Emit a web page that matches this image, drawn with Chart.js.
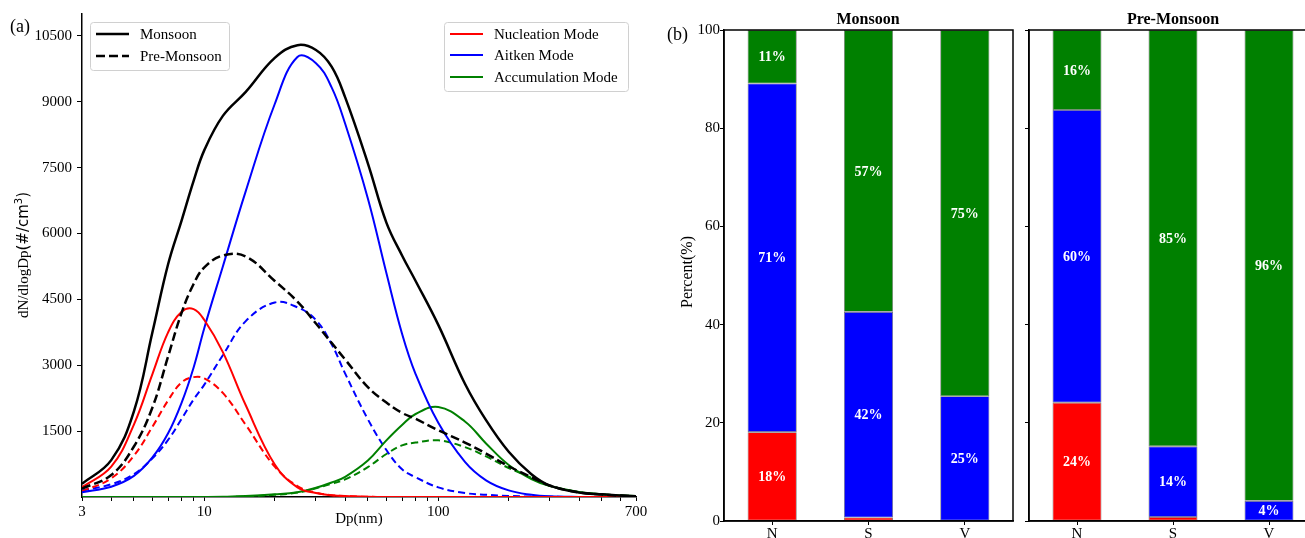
<!DOCTYPE html>
<html>
<head>
<meta charset="utf-8">
<script src="https://cdn.jsdelivr.net/npm/chart.js@4.4.0/dist/chart.umd.min.js"></script>
<style>
  html, body { margin: 0; padding: 0; background: #fff; overflow: hidden; }
  #wrap { position: relative; width: 1305px; height: 538px; overflow: hidden; }
  canvas { position: absolute; top: 0; }
</style>
</head>
<body>
<div id="wrap">
  <canvas id="psd" width="650" height="538" style="left:0px"></canvas>
  <canvas id="barMon" width="380" height="538" style="left:640px"></canvas>
  <canvas id="barPre" width="310" height="538" style="left:1020px"></canvas>
</div>
<script>
// (a) size distributions, dN/dlogDp vs Dp (nm)
const diameters = [3, 4, 5, 6, 7, 8, 9, 10, 12, 15, 20, 25, 30, 35, 40, 50, 60, 70, 80, 100, 130, 160, 200, 250, 300, 400, 500, 700];

const monsoonTotal = [300, 840, 1950, 3750, 5300, 6300, 7200, 7900, 8680, 9220, 10000, 10290, 10180, 9800, 9100, 7600, 6250, 5500, 4920, 3920, 2580, 1750, 1030, 520, 260, 100, 60, 15];
const monsoonNuc   = [220, 690, 1650, 2800, 3750, 4220, 4280, 4030, 3300, 2100, 740, 220, 90, 40, 20, 5, 0, 0, 0, 0, 0, 0, 0, 0, 0, 0, 0, 0];
const monsoonAit   = [110, 235, 480, 900, 1450, 2150, 2950, 3850, 5250, 6950, 8950, 10020, 9880, 9330, 8500, 6800, 5100, 3720, 2800, 1690, 800, 380, 150, 50, 15, 2, 0, 0];
const monsoonAcc   = [0, 0, 0, 0, 0, 0, 0, 0, 5, 20, 60, 110, 210, 330, 460, 830, 1290, 1640, 1890, 2050, 1720, 1220, 730, 410, 250, 115, 65, 20];

const preTotal = [190, 500, 1150, 2040, 3200, 4200, 4850, 5230, 5500, 5480, 4920, 4450, 3950, 3510, 3130, 2500, 2150, 1915, 1780, 1520, 1240, 990, 700, 450, 260, 105, 55, 15];
const preNuc   = [130, 425, 940, 1600, 2200, 2610, 2730, 2700, 2370, 1650, 690, 250, 100, 40, 20, 5, 0, 0, 0, 0, 0, 0, 0, 0, 0, 0, 0, 0];
const preAit   = [150, 290, 520, 880, 1300, 1780, 2220, 2560, 3230, 4000, 4430, 4320, 4030, 3480, 2810, 1770, 1070, 630, 450, 220, 90, 50, 25, 10, 5, 0, 0, 0];
const preAcc   = [0, 0, 0, 0, 0, 0, 0, 0, 0, 10, 50, 100, 200, 300, 400, 680, 980, 1175, 1240, 1290, 1135, 925, 660, 440, 255, 110, 60, 15];

const xTickValues = [3, 4, 5, 6, 7, 8, 9, 10, 20, 30, 40, 50, 60, 70, 80, 90, 100, 200, 300, 400, 500, 600, 700];
const xTickLabels = [3, 10, 100, 700];
const yTickValues = [1500, 3000, 4500, 6000, 7500, 9000, 10500];

// (b) mode fractions (%) per site
const sites = ['N', 'S', 'V'];
const monNucPct = [18.1, 0.7, 0];
const monAitPct = [71.0, 41.9, 25.4];
const monAccPct = [10.9, 57.4, 74.6];
const preNucPct = [24.1, 0.8, 0];
const preAitPct = [59.6, 14.4, 4.1];
const preAccPct = [16.3, 84.8, 95.9];
const pctTicks = [0, 20, 40, 60, 80, 100];

const SERIF = '"Liberation Serif", "Times New Roman", serif';
const RED = '#ff0000', BLUE = '#0000ff', GREEN = '#008000';
const SOLID = [], DASH_K = [9, 4], DASH_C = [7, 4];

function curve(label, values, color, dash, width) {
  return {
    label: label,
    data: diameters.map((d, i) => ({ x: d, y: values[i] })),
    borderColor: color,
    borderWidth: width,
    borderDash: dash,
    pointRadius: 0,
    fill: false,
    tension: 0.4
  };
}

function legendBox(ctx, x, y, w, h, items) {
  ctx.save();
  ctx.fillStyle = 'rgba(255,255,255,0.8)';
  ctx.strokeStyle = '#d0d0d0';
  ctx.lineWidth = 1;
  ctx.beginPath();
  ctx.roundRect(x + 0.5, y + 0.5, w, h, 3);
  ctx.fill();
  ctx.stroke();
  ctx.font = '15px ' + SERIF;
  ctx.textBaseline = 'middle';
  ctx.fillStyle = '#000';
  items.forEach(it => {
    ctx.beginPath();
    ctx.strokeStyle = it.color;
    ctx.lineWidth = it.width;
    ctx.setLineDash(it.dash);
    ctx.moveTo(x + 6, it.y);
    ctx.lineTo(x + 39, it.y);
    ctx.stroke();
    ctx.setLineDash([]);
    ctx.fillText(it.label, x + 50, it.y + 1);
  });
  ctx.restore();
}

const psdDecor = {
  id: 'psdDecor',
  afterDraw(chart) {
    const ctx = chart.ctx;
    legendBox(ctx, 90, 22, 139, 48, [
      { label: 'Monsoon', color: '#000', dash: SOLID, width: 2.5, y: 34 },
      { label: 'Pre-Monsoon', color: '#000', dash: DASH_K, width: 2.5, y: 56 }
    ]);
    legendBox(ctx, 444, 22, 184, 69, [
      { label: 'Nucleation Mode', color: RED, dash: SOLID, width: 2, y: 34 },
      { label: 'Aitken Mode', color: BLUE, dash: SOLID, width: 2, y: 55 },
      { label: 'Accumulation Mode', color: GREEN, dash: SOLID, width: 2, y: 77 }
    ]);

    ctx.save();
    ctx.fillStyle = '#000';
    ctx.font = '18px ' + SERIF;
    ctx.textBaseline = 'middle';
    ctx.fillText('(a)', 10, 27);

    ctx.font = '15px ' + SERIF;
    ctx.textAlign = 'center';
    ctx.fillText('Dp(nm)', 359, 519);

    // y title: serif name, sans units with superscript
    const parts = [
      ['dN/dlogDp', '15px ' + SERIF, 0],
      ['(#/cm', '15px "DejaVu Sans"', 0],
      ['3', '10px "DejaVu Sans"', -5],
      [')', '15px "DejaVu Sans"', 0]
    ];
    ctx.textAlign = 'left';
    let total = 0;
    parts.forEach(p => { ctx.font = p[1]; total += ctx.measureText(p[0]).width; });
    ctx.translate(24, 255);
    ctx.rotate(-Math.PI / 2);
    let cx = -total / 2;
    parts.forEach(p => {
      ctx.font = p[1];
      ctx.fillText(p[0], cx, p[2]);
      cx += ctx.measureText(p[0]).width;
    });
    ctx.restore();
  }
};

new Chart(document.getElementById('psd'), {
  type: 'line',
  data: {
    datasets: [
      curve('Monsoon', monsoonTotal, '#000', SOLID, 2.5),
      curve('Pre-Monsoon', preTotal, '#000', DASH_K, 2.5),
      curve('Nucleation Mode', monsoonNuc, RED, SOLID, 2),
      curve('Aitken Mode', monsoonAit, BLUE, SOLID, 2),
      curve('Accumulation Mode', monsoonAcc, GREEN, SOLID, 2),
      curve('Nucleation Mode (Pre-Monsoon)', preNuc, RED, DASH_C, 2),
      curve('Aitken Mode (Pre-Monsoon)', preAit, BLUE, DASH_C, 2),
      curve('Accumulation Mode (Pre-Monsoon)', preAcc, GREEN, DASH_C, 2)
    ]
  },
  options: {
    responsive: false,
    animation: false,
    devicePixelRatio: 1,
    layout: { padding: { left: 0, right: 14, top: 13, bottom: 0 } },
    plugins: { legend: { display: false }, tooltip: { enabled: false } },
    scales: {
      x: {
        type: 'logarithmic',
        min: 3,
        max: 700,
        afterBuildTicks: s => { s.ticks = xTickValues.map(v => ({ value: v })); },
        afterFit: s => { s.height = 41; },
        ticks: {
          autoSkip: false,
          maxRotation: 0,
          padding: 2,
          color: '#000',
          font: { family: SERIF, size: 15 },
          callback: v => xTickLabels.includes(v) ? String(v) : ''
        },
        grid: { drawOnChartArea: false, tickLength: 4, color: '#000' },
        border: { color: '#000', width: 1.5 }
      },
      y: {
        min: 0,
        max: 11000,
        afterBuildTicks: s => { s.ticks = yTickValues.map(v => ({ value: v })); },
        afterFit: s => { s.width = 82; },
        ticks: {
          padding: 5,
          color: '#000',
          font: { family: SERIF, size: 15 },
          callback: v => String(v)
        },
        grid: { drawOnChartArea: false, tickLength: 5, color: '#000' },
        border: { color: '#000', width: 1.5 }
      }
    }
  },
  plugins: [psdDecor]
});

// stacked bars with centred percentage labels and a full frame
function barDecor(title, titleX, extra) {
  return {
    id: 'barDecor',
    afterDatasetsDraw(chart) {
      const ctx = chart.ctx;
      ctx.save();
      ctx.font = 'bold 14px ' + SERIF;
      ctx.fillStyle = '#fff';
      ctx.textAlign = 'center';
      ctx.textBaseline = 'middle';
      chart.data.datasets.forEach((ds, di) => {
        chart.getDatasetMeta(di).data.forEach((bar, i) => {
          const v = ds.data[i];
          if (v < 2) return;
          ctx.fillText(Math.round(v) + '%', bar.x, (bar.y + bar.base) / 2 + 1);
        });
      });
      ctx.restore();
    },
    afterDraw(chart) {
      const ctx = chart.ctx;
      const a = chart.chartArea;
      ctx.save();
      ctx.strokeStyle = '#000';
      ctx.lineWidth = 1.5;
      ctx.strokeRect(a.left, a.top, a.right - a.left, a.bottom - a.top);
      ctx.fillStyle = '#000';
      ctx.font = 'bold 16px ' + SERIF;
      ctx.textAlign = 'center';
      ctx.textBaseline = 'middle';
      ctx.fillText(title, titleX, 20);
      if (extra) extra(ctx);
      ctx.restore();
    }
  };
}

function barChart(id, nuc, ait, acc, yWidth, rightPad, showY, decor) {
  const seg = (label, data, color) => ({
    label: label,
    data: data,
    backgroundColor: color,
    borderColor: 'rgba(0,0,0,0.55)',
    borderWidth: 0.8,
    borderSkipped: false,
    barPercentage: 0.51,
    categoryPercentage: 1
  });
  new Chart(document.getElementById(id), {
    type: 'bar',
    data: {
      labels: sites,
      datasets: [
        seg('Nucleation Mode', nuc, RED),
        seg('Aitken Mode', ait, BLUE),
        seg('Accumulation Mode', acc, GREEN)
      ]
    },
    options: {
      responsive: false,
      animation: false,
      devicePixelRatio: 1,
      layout: { padding: { left: 0, right: rightPad, top: 30, bottom: 0 } },
      plugins: { legend: { display: false }, tooltip: { enabled: false } },
      scales: {
        x: {
          stacked: true,
          afterFit: s => { s.height = 17; },
          ticks: { padding: 0, color: '#000', font: { family: SERIF, size: 15 } },
          grid: { offset: false, drawOnChartArea: false, tickLength: 4, color: '#000' },
          border: { color: '#000', width: 1.5 }
        },
        y: {
          stacked: true,
          min: 0,
          max: 100,
          afterBuildTicks: s => { s.ticks = pctTicks.map(v => ({ value: v })); },
          afterFit: s => { s.width = yWidth; },
          ticks: {
            padding: 0,
            color: '#000',
            font: { family: SERIF, size: 15 },
            callback: v => showY ? String(v) : ''
          },
          grid: { drawOnChartArea: false, tickLength: 4, color: '#000' },
          border: { color: '#000', width: 1.5 }
        }
      }
    },
    plugins: [decor]
  });
}

barChart('barMon', monNucPct, monAitPct, monAccPct, 84, 7, true,
  barDecor('Monsoon', 228, ctx => {
    ctx.font = '18px ' + SERIF;
    ctx.textAlign = 'left';
    ctx.fillText('(b)', 27, 35);
    ctx.font = '16px ' + SERIF;
    ctx.textAlign = 'center';
    ctx.translate(48, 272);
    ctx.rotate(-Math.PI / 2);
    ctx.fillText('Percent(%)', 0, 0);
  }));

barChart('barPre', preNucPct, preAitPct, preAccPct, 9, 13, false,
  barDecor('Pre-Monsoon', 153, null));
</script>
</body>
</html>
